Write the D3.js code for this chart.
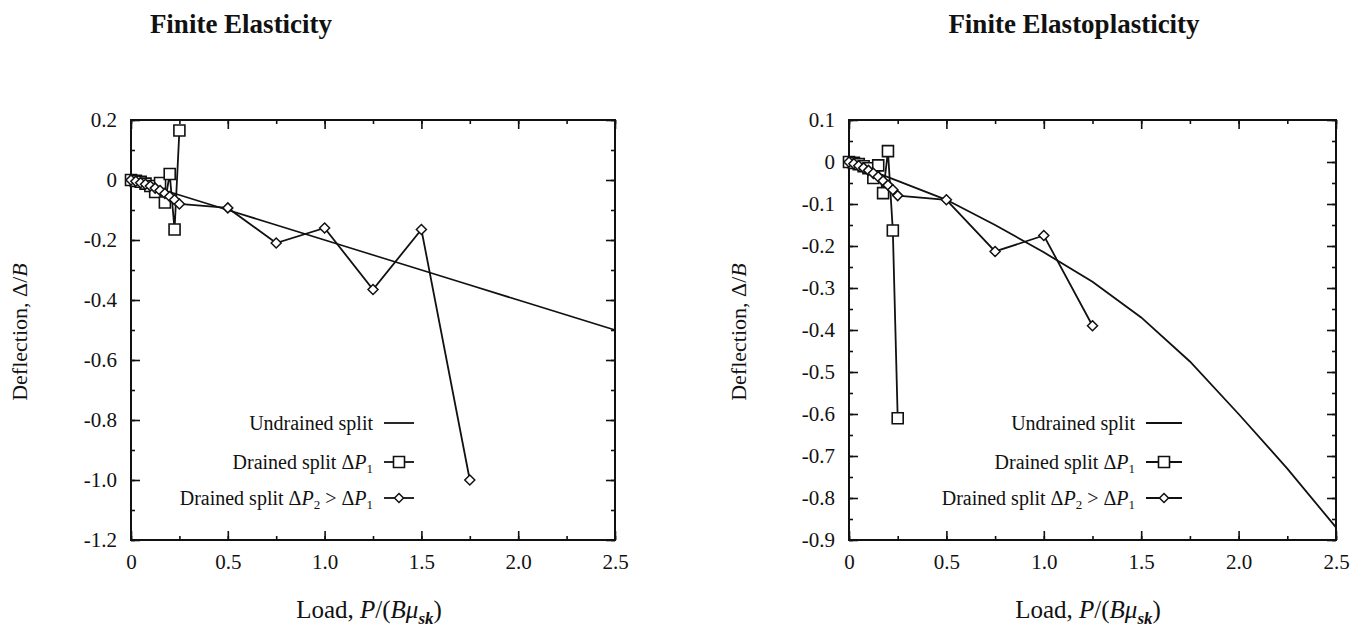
<!DOCTYPE html>
<html>
<head>
<meta charset="utf-8">
<script src="https://cdn.jsdelivr.net/npm/d3@7/dist/d3.min.js"></script>
<style>
body{margin:0;background:#fff}
text{font-family:"Liberation Serif","DejaVu Serif",serif;fill:#111}
</style>
</head>
<body>
<svg id="chart" width="1361" height="636"></svg>
<script>
/* 数据 */
const loadTicks=[0,0.5,1,1.5,2,2.5];
const loadLabels=["0","0.5","1.0","1.5","2.0","2.5"];
const elasTicks=[0.2,0,-0.2,-0.4,-0.6,-0.8,-1.0,-1.2];
const elasLabels=["0.2","0","-0.2","-0.4","-0.6","-0.8","-1.0","-1.2"];
const plasTicks=[0.1,0,-0.1,-0.2,-0.3,-0.4,-0.5,-0.6,-0.7,-0.8,-0.9];
const plasLabels=["0.1","0","-0.1","-0.2","-0.3","-0.4","-0.5","-0.6","-0.7","-0.8","-0.9"];

// Finite Elasticity
const elasUndrained=[[0,0],[0.25,-0.05],[0.5,-0.1],[0.75,-0.15],[1.0,-0.2],[1.25,-0.25],[1.5,-0.3],[1.75,-0.35],[2.0,-0.4],[2.25,-0.45],[2.5,-0.5]];
const elasDrained1=[[0,0],[0.025,-0.003],[0.05,-0.006],[0.075,-0.012],[0.1,-0.02],[0.125,-0.04],[0.15,-0.01],[0.175,-0.075],[0.2,0.02],[0.225,-0.165],[0.25,0.165]];
const elasDrained2=[[0,0],[0.025,-0.004],[0.05,-0.009],[0.075,-0.014],[0.1,-0.02],[0.125,-0.027],[0.15,-0.035],[0.175,-0.045],[0.2,-0.055],[0.225,-0.066],[0.25,-0.08],[0.5,-0.093],[0.75,-0.21],[1.0,-0.16],[1.25,-0.365],[1.5,-0.165],[1.75,-1.0]];

// Finite Elastoplasticity
const plasUndrained=[[0,0],[0.25,-0.045],[0.5,-0.09],[0.75,-0.15],[1.0,-0.215],[1.25,-0.285],[1.5,-0.37],[1.75,-0.475],[2.0,-0.6],[2.25,-0.73],[2.5,-0.87]];
const plasDrained1=[[0,0],[0.025,-0.002],[0.05,-0.005],[0.075,-0.01],[0.1,-0.015],[0.125,-0.038],[0.15,-0.008],[0.175,-0.074],[0.2,0.026],[0.225,-0.163],[0.25,-0.61]];
const plasDrained2=[[0,0],[0.025,-0.004],[0.05,-0.009],[0.075,-0.014],[0.1,-0.02],[0.125,-0.027],[0.15,-0.035],[0.175,-0.045],[0.2,-0.055],[0.225,-0.066],[0.25,-0.08],[0.5,-0.09],[0.75,-0.213],[1.0,-0.175],[1.25,-0.39]];

const svg=d3.select("#chart");

function squarePath(s){return "M"+(-s)+","+(-s)+"H"+s+"V"+s+"H"+(-s)+"Z";}
function diamondPath(s){return "M0,"+(-s)+"L"+s+",0L0,"+s+"L"+(-s)+",0Z";}

function panel(cfg){
  const x=d3.scaleLinear().domain([0,2.5]).range([cfg.left,cfg.right]);
  const y=d3.scaleLinear().domain(cfg.yDomain).range([120,540]);
  const g=svg.append("g");

  // 标题
  g.append("text").attr("x",cfg.titleX).attr("y",33).attr("text-anchor","middle")
    .style("font-weight","bold").style("font-size","27px").text(cfg.title);

  // 坐标轴(刻度朝内)
  const minorX=d3.range(0,2.51,0.25);
  const minorY=d3.range(cfg.yDomain[1],cfg.yDomain[0]+1e-9,cfg.yMinor);
  function ax(axis,tr,scale,major,minor,labels){
    const a=g.append("g").attr("transform",tr);
    a.call(axis(scale).tickValues(minor).tickSize(-4).tickFormat(""));
    const b=g.append("g").attr("transform",tr);
    b.call(axis(scale).tickValues(major).tickSize(-9).tickPadding(labels?14:0)
      .tickFormat(labels?((d,i)=>labels[i]):""));
    [a,b].forEach(s=>{s.select(".domain").remove();s.selectAll("line").attr("stroke","#111").attr("stroke-width",1.6);});
    b.attr("font-family",'"Liberation Serif",serif').attr("font-size",21);
    b.selectAll("text").attr("fill","#111");
  }
  ax(d3.axisBottom,"translate(0,540)",x,loadTicks,minorX,loadLabels);
  ax(d3.axisTop,"translate(0,120)",x,loadTicks,minorX,null);
  ax(d3.axisLeft,"translate("+cfg.left+",0)",y,cfg.yTicks,minorY,cfg.yLabels);
  ax(d3.axisRight,"translate("+cfg.right+",0)",y,cfg.yTicks,minorY,null);
  g.append("rect").attr("x",cfg.left).attr("y",120).attr("width",cfg.right-cfg.left).attr("height",420)
    .attr("fill","none").attr("stroke","#111").attr("stroke-width",2);

  // 轴标题
  const yl=g.append("text").attr("transform","translate("+cfg.yLabelX+",332) rotate(-90)")
    .attr("text-anchor","middle").style("font-size","22px");
  yl.append("tspan").text("Deflection, \u0394/");
  yl.append("tspan").style("font-style","italic").text("B");
  const xl=g.append("text").attr("x",cfg.xLabelX).attr("y",618).attr("text-anchor","middle").style("font-size","25px");
  xl.append("tspan").text("Load, ");
  xl.append("tspan").style("font-style","italic").text("P");
  xl.append("tspan").text("/(");
  xl.append("tspan").style("font-style","italic").text("B\u03bc");
  xl.append("tspan").attr("dy",6).style("font-style","italic").style("font-weight","bold").style("font-size","17px").text("sk");
  xl.append("tspan").attr("dy",-6).text(")");

  // 曲线
  const line=d3.line().x(d=>x(d[0])).y(d=>y(d[1]));
  [cfg.undrained,cfg.drained1,cfg.drained2].forEach(s=>{
    g.append("path").attr("d",line(s)).attr("fill","none").attr("stroke","#111").attr("stroke-width",1.8);
  });
  g.selectAll(".sq").data(cfg.drained1).enter().append("path").attr("class","sq")
    .attr("transform",d=>"translate("+x(d[0])+","+y(d[1])+")").attr("d",squarePath(5.5))
    .attr("fill","#fff").attr("stroke","#111").attr("stroke-width",1.6);
  g.selectAll(".dm").data(cfg.drained2).enter().append("path").attr("class","dm")
    .attr("transform",d=>"translate("+x(d[0])+","+y(d[1])+")").attr("d",diamondPath(5))
    .attr("fill","#fff").attr("stroke","#111").attr("stroke-width",1.5);

  // 图例
  const lx=cfg.legendX, rows=[423,462,498], fs="20px";
  const t0=g.append("text").attr("x",lx).attr("y",rows[0]+7).attr("text-anchor","end").style("font-size",fs);
  t0.append("tspan").text("Undrained split");
  const t1=g.append("text").attr("x",lx).attr("y",rows[1]+7).attr("text-anchor","end").style("font-size",fs);
  t1.append("tspan").text("Drained split \u0394");
  t1.append("tspan").style("font-style","italic").text("P");
  t1.append("tspan").attr("dy",4).style("font-size","13px").text("1");
  const t2=g.append("text").attr("x",lx).attr("y",rows[2]+7).attr("text-anchor","end").style("font-size",fs);
  t2.append("tspan").text("Drained split \u0394");
  t2.append("tspan").style("font-style","italic").text("P");
  t2.append("tspan").attr("dy",4).style("font-size","13px").text("2");
  t2.append("tspan").attr("dy",-4).text(" > \u0394");
  t2.append("tspan").style("font-style","italic").text("P");
  t2.append("tspan").attr("dy",4).style("font-size","13px").text("1");
  rows.forEach(r=>{
    g.append("line").attr("x1",lx+11).attr("x2",lx+11+cfg.legendLen).attr("y1",r).attr("y2",r)
      .attr("stroke","#111").attr("stroke-width",1.8);
  });
  const mx=lx+11+cfg.legendLen/2;
  g.append("path").attr("transform","translate("+mx+","+rows[1]+")").attr("d",squarePath(5.5))
    .attr("fill","#fff").attr("stroke","#111").attr("stroke-width",1.6);
  g.append("path").attr("transform","translate("+mx+","+rows[2]+")").attr("d",diamondPath(4.5))
    .attr("fill","#fff").attr("stroke","#111").attr("stroke-width",1.5);
}

panel({title:"Finite Elasticity",titleX:241,left:131,right:615,yDomain:[0.2,-1.2],yMinor:0.1,
  yTicks:elasTicks,yLabels:elasLabels,yLabelX:27,xLabelX:369,legendX:373,legendLen:30,
  undrained:elasUndrained,drained1:elasDrained1,drained2:elasDrained2});
panel({title:"Finite Elastoplasticity",titleX:1074,left:849,right:1336,yDomain:[0.1,-0.9],yMinor:0.05,
  yTicks:plasTicks,yLabels:plasLabels,yLabelX:746,xLabelX:1088,legendX:1135,legendLen:36,
  undrained:plasUndrained,drained1:plasDrained1,drained2:plasDrained2});
</script>
</body>
</html>
